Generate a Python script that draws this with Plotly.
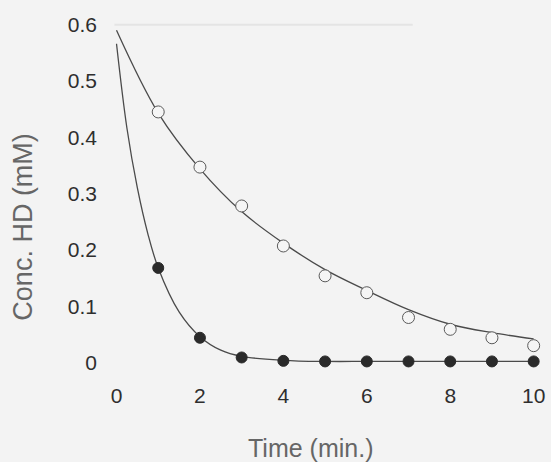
import plotly.graph_objects as go

# Measured data points
time_pts = [1, 2, 3, 4, 5, 6, 7, 8, 9, 10]
open_vals = [0.445, 0.347, 0.278, 0.207, 0.154, 0.124, 0.080, 0.059, 0.044, 0.030]
filled_vals = [0.168, 0.044, 0.009, 0.003, 0.002, 0.002, 0.002, 0.002, 0.002, 0.002]

# Fitted curves
open_fit_t = [0, 1, 2, 3, 4, 5, 6, 7, 8, 9, 10]
open_fit_v = [0.590, 0.443, 0.344, 0.268, 0.212, 0.165, 0.128, 0.094, 0.068, 0.053, 0.042]
filled_fit_t = [0, 0.25, 0.5, 0.75, 1, 1.5, 2, 2.5, 3, 4, 5, 6, 7, 8, 9, 10]
filled_fit_v = [0.566, 0.416, 0.310, 0.229, 0.168, 0.090, 0.046, 0.022, 0.011, 0.004,
                0.002, 0.002, 0.002, 0.002, 0.002, 0.002]

x_ticks = [0, 2, 4, 6, 8, 10]
y_ticks = [0, 0.1, 0.2, 0.3, 0.4, 0.5, 0.6]
y_tick_labels = ["0", "0.1", "0.2", "0.3", "0.4", "0.5", "0.6"]

line_col = "#4a4a4a"
bg = "#f3f3f3"
fam = "Liberation Sans, Arial, sans-serif"

fig = go.Figure()
fig.add_trace(go.Scatter(x=open_fit_t, y=open_fit_v, mode="lines",
                         line=dict(color=line_col, width=1.3, shape="spline"),
                         hoverinfo="skip", showlegend=False))
fig.add_trace(go.Scatter(x=filled_fit_t, y=filled_fit_v, mode="lines",
                         line=dict(color=line_col, width=1.3, shape="spline"),
                         hoverinfo="skip", showlegend=False))
fig.add_trace(go.Scatter(x=time_pts, y=open_vals, mode="markers",
                         marker=dict(symbol="circle", size=12, color="#f5f5f5",
                                     line=dict(color="#5a5a5a", width=1)),
                         showlegend=False))
fig.add_trace(go.Scatter(x=time_pts, y=filled_vals, mode="markers",
                         marker=dict(symbol="circle", size=11, color="#2a2a2a",
                                     line=dict(color="#2a2a2a", width=1)),
                         showlegend=False))

# faint scan line near the top
fig.add_shape(type="line", x0=-0.05, x1=7.1, y0=0.6, y1=0.6, xref="x", yref="y",
              line=dict(color="#e4e4e4", width=2), layer="below")

tick_font = dict(family=fam, size=21, color="#2e2e2e")

fig.update_layout(
    width=551, height=462,
    margin=dict(l=104, r=6, t=19, b=91),
    paper_bgcolor=bg, plot_bgcolor=bg,
    xaxis=dict(range=[-0.3, 10.2], tickvals=x_ticks, ticktext=[str(v) for v in x_ticks],
               showgrid=False, zeroline=False, showline=False, ticks="",
               tickfont=tick_font, ticklabelstandoff=10),
    yaxis=dict(range=[-0.015, 0.61], tickvals=y_ticks, ticktext=y_tick_labels,
               showgrid=False, zeroline=False, showline=False, ticks="",
               tickfont=tick_font, ticklabelstandoff=6),
    annotations=[
        dict(text="Conc. HD (mM)", xref="paper", yref="paper", x=-0.185, y=0.410,
             textangle=-90, showarrow=False, xanchor="center", yanchor="middle",
             font=dict(family=fam, size=27, color="#666666")),
        dict(text="Time (min.)", xref="paper", yref="paper", x=0.472, y=-0.220,
             showarrow=False, xanchor="center", yanchor="middle",
             font=dict(family=fam, size=25, color="#666666")),
    ],
)

fig.write_html("out.html", config={"displayModeBar": False},
               post_script="document.body.style.margin='0';document.body.style.background='#f3f3f3';")
